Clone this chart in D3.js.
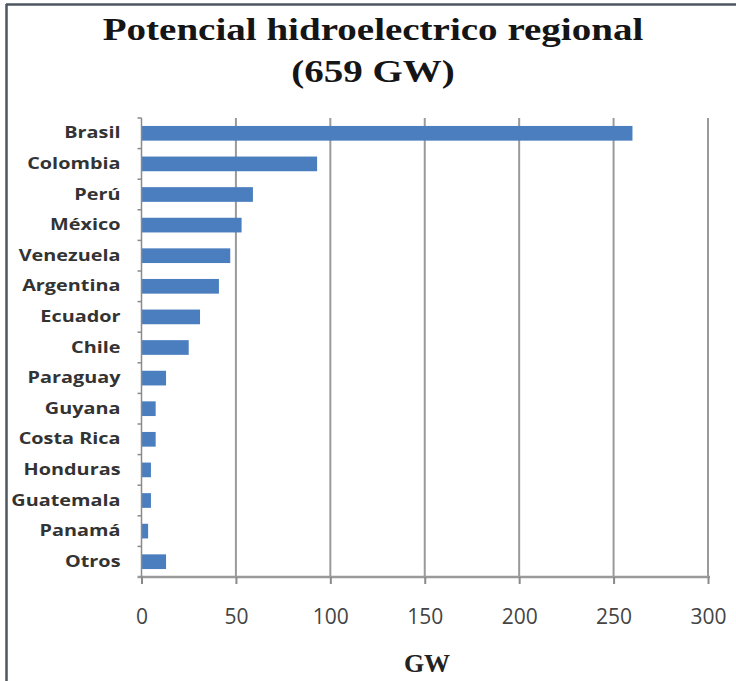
<!DOCTYPE html>
<html><head><meta charset="utf-8">
<script src="https://cdn.jsdelivr.net/npm/d3@7"></script>
<style>body{margin:0;background:#fff}svg{display:block}</style>
</head><body>
<script>
const categories = ["Brasil","Colombia","Perú","México","Venezuela","Argentina","Ecuador","Chile","Paraguay","Guyana","Costa Rica","Honduras","Guatemala","Panamá","Otros"];
const values = [260, 93, 59, 53, 47, 41, 31, 25, 13, 7.5, 7.5, 5, 5, 3.5, 13];
const xTicks = [0, 50, 100, 150, 200, 250, 300];
const titleLines = ["Potencial hidroelectrico regional", "(659 GW)"];
const xLabel = "GW";

(function(){
const W = 736, H = 681;
const svg = d3.select("body").append("svg").attr("width", W).attr("height", H);

// frame
svg.append("line").attr("x1",6).attr("x2",W).attr("y1",4.5).attr("y2",4.5).attr("stroke","#4d5660").attr("stroke-width",2.5);
svg.append("line").attr("x1",6.5).attr("x2",6.5).attr("y1",4).attr("y2",H).attr("stroke","#4d5660").attr("stroke-width",2.5);

const pL = 141.5, pR = 708, pT = 118, pB = 577;
const x = d3.scaleLinear().domain([0, 300]).range([pL, pR]);
const y = d3.scaleBand().domain(categories).range([pT, pB]).paddingInner(0.52).paddingOuter(0.26);

// title
svg.append("g").selectAll("text").data(titleLines).join("text")
  .attr("transform", (d,i) => `translate(373,${40 + i*42}) scale(1.22,1)`)
  .attr("text-anchor","middle")
  .attr("font-family","'Liberation Serif','Times New Roman',serif")
  .attr("font-weight","bold").attr("font-size",32).attr("fill","#151515")
  .text(d => d);

// gridlines
svg.append("g").selectAll("line").data(xTicks.slice(1)).join("line")
  .attr("x1", d => x(d)).attr("x2", d => x(d))
  .attr("y1", pT).attr("y2", pB)
  .attr("stroke","#9a9a9a").attr("stroke-width",2);

// bars
svg.append("g").selectAll("rect").data(categories).join("rect")
  .attr("x", x(0)).attr("y", d => y(d))
  .attr("width", (d,i) => x(values[i]) - x(0))
  .attr("height", y.bandwidth())
  .attr("fill","#4a7ebf");

// x axis
const xAxis = d3.axisBottom(x).tickValues(xTicks).tickSize(7).tickPadding(28);
const gx = svg.append("g").attr("transform",`translate(0,${pB})`).call(xAxis);
gx.select(".domain").attr("stroke","#9a9a9a").attr("stroke-width",2.5).attr("d",`M${x(0)-4},0H${x(300)+2}`);
gx.selectAll(".tick line").attr("stroke","#8a8a8a").attr("stroke-width",2);
gx.selectAll(".tick text").attr("font-family","'Open Sans',sans-serif").attr("font-size",21)
  .attr("fill","#444").attr("dy","0.35em").attr("y",40);

// y axis
const yAxis = d3.axisLeft(y).tickSize(0).tickPadding(21);
const gy = svg.append("g").attr("transform",`translate(${pL},0)`).call(yAxis);
gy.select(".domain").attr("stroke","#8a8a8a").attr("stroke-width",1.5).attr("d",`M0,${pT}V${pB}`);
gy.selectAll(".tick text")
  .attr("transform","translate(-21,0) scale(1.24,1)").attr("x",0)
  .attr("font-family","'Open Sans',Lato,sans-serif").attr("font-weight","bold").attr("font-size",16).attr("fill","#333");
// band boundary ticks
const bounds = categories.map(c => y(c) - y.step()*y.paddingInner()/2);
svg.append("g").selectAll("line").data(bounds).join("line")
  .attr("x1", pL-4).attr("x2", pL).attr("y1", d => d).attr("y2", d => d)
  .attr("stroke","#8a8a8a").attr("stroke-width",1.5);

// x label
svg.append("text").attr("x", 427).attr("y", 672).attr("text-anchor","middle")
  .attr("font-family","'Liberation Serif','Times New Roman',serif")
  .attr("font-weight","bold").attr("font-size",26).attr("fill","#222").text(xLabel);
})();
</script>
</body></html>
